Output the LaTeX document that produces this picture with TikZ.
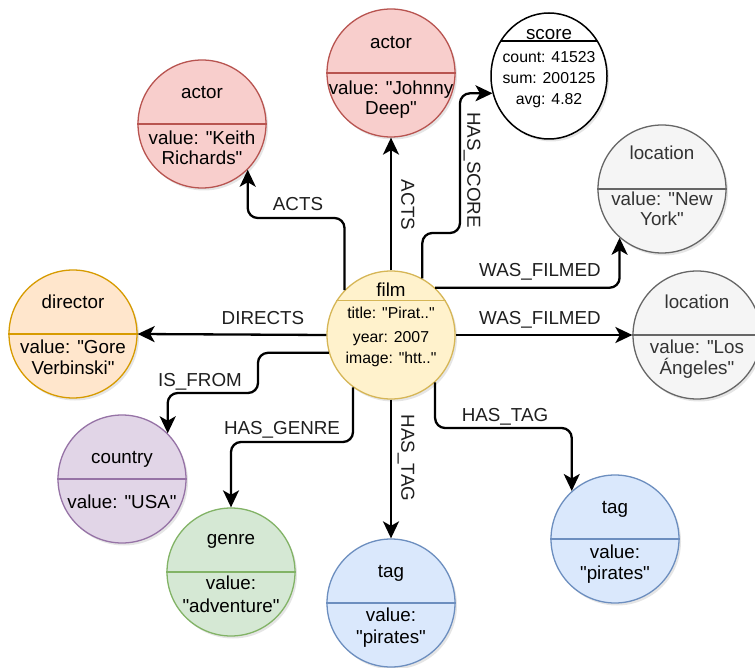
\documentclass[tikz,border=0pt]{standalone}
\usepackage{fontspec}
\setmainfont{Liberation Sans}
\usetikzlibrary{arrows.meta,shadows,shapes.geometric}

\definecolor{redF}{HTML}{F8CECC}\definecolor{redD}{HTML}{B85450}
\definecolor{yelF}{HTML}{FFF2CC}\definecolor{yelD}{HTML}{D6B656}
\definecolor{oraF}{HTML}{FFE6CC}\definecolor{oraD}{HTML}{D79B00}
\definecolor{purF}{HTML}{E1D5E7}\definecolor{purD}{HTML}{9673A6}
\definecolor{grnF}{HTML}{D5E8D4}\definecolor{grnD}{HTML}{82B366}
\definecolor{bluF}{HTML}{DAE8FC}\definecolor{bluD}{HTML}{6C8EBF}
\definecolor{gryF}{HTML}{F5F5F5}\definecolor{gryD}{HTML}{666666}
\definecolor{gryT}{HTML}{333333}

% straight double quote
\newcommand\qq{\textquotedbl}

\tikzset{
  ent/.style={circle, minimum size=128pt, inner sep=0pt, line width=1.3pt,
    drop shadow={opacity=0.2, shadow xshift=2pt, shadow yshift=-2.5pt}},
  divider/.style={line width=1.3pt},
  txt/.style={inner sep=0pt, text height=13.5pt, text depth=0pt, anchor=center,
    font=\fontsize{18.8}{22}\selectfont},
  small/.style={inner sep=0pt, text height=11.4pt, text depth=0pt, anchor=center,
    font=\fontsize{15.8}{19}\selectfont},
  rel/.style={line width=2.3pt, rounded corners=10pt,
    -{Stealth[length=17pt, width=16pt, inset=4.5pt]}},
  elabel/.style={txt, text=black!88},
}

\begin{document}
\begin{tikzpicture}[x=1pt, y=-1pt]
\fill[white] (0,0) rectangle (755,668);
\useasboundingbox (0,0) rectangle (755,668);

% ---------- entities ----------
\node[ent, fill=yelF, draw=yelD] (film) at (391,335) {};
\draw[divider, yelD] (film.148) -- (film.32);

\node[ent, fill=redF, draw=redD] (keith) at (202,124) {};
\draw[divider, redD] (keith.west) -- (keith.east);

\node[ent, fill=redF, draw=redD] (johnny) at (391,73) {};
\draw[divider, redD] (johnny.west) -- (johnny.east);

\node[ellipse, minimum width=116pt, minimum height=126pt, inner sep=0pt,
  fill=white, draw=black, line width=1.5pt,
  drop shadow={opacity=0.2, shadow xshift=2pt, shadow yshift=-2.5pt}] (score) at (549,76) {};
\draw[line width=2pt] ([shift={(-48,-35)}]score.center) coordinate (sd1) -- ([shift={(48,-35)}]score.center) coordinate (sd2);

\node[ent, fill=gryF, draw=gryD] (ny) at (662,189) {};
\draw[divider, gryD] (ny.west) -- (ny.east);

\node[ent, fill=gryF, draw=gryD] (la) at (697,335) {};
\draw[divider, gryD] (la.west) -- (la.east);

\node[ent, fill=oraF, draw=oraD] (director) at (73,334) {};
\draw[divider, oraD] (director.west) -- (director.east);

\node[ent, fill=purF, draw=purD] (country) at (122,479) {};
\draw[divider, purD] (country.west) -- (country.east);

\node[ent, fill=grnF, draw=grnD] (genre) at (231,572) {};
\draw[divider, grnD] (genre.west) -- (genre.east);

\node[ent, fill=bluF, draw=bluD] (tagA) at (391,603) {};
\draw[divider, bluD] (tagA.west) -- (tagA.east);

\node[ent, fill=bluF, draw=bluD] (tagB) at (615,539) {};
\draw[divider, bluD] (tagB.west) -- (tagB.east);

% ---------- entity texts ----------
\node[txt] (film-t) at (391,290) {film};
\node[small] (film-a) at (391,313) {title: \qq Pirat..\qq};
\node[small] (film-b) at (391,337) {year: 2007};
\node[small] (film-c) at (391,358) {image: \qq htt..\qq};

\node[txt] (keith-t) at (202,92) {actor};
\node[txt] (keith-a) at (202,138) {value: \qq Keith};
\node[txt] (keith-b) at (202,158) {Richards\qq};

\node[txt] (johnny-t) at (391,42) {actor};
\node[txt] (johnny-a) at (391,88) {value: \qq Johnny};
\node[txt] (johnny-b) at (391,108) {Deep\qq};

\node[txt] (score-t) at (549,33) {score};
\node[small] (score-a) at (549,57) {count: 41523};
\node[small] (score-b) at (549,78) {sum: 200125};
\node[small] (score-c) at (549,99) {avg: 4.82};

\node[txt, text=gryT] (ny-t) at (662,153) {location};
\node[txt, text=gryT] (ny-a) at (662,199) {value: \qq New};
\node[txt, text=gryT] (ny-b) at (662,219) {York\qq};

\node[txt, text=gryT] (la-t) at (697,302) {location};
\node[txt, text=gryT] (la-a) at (697,347) {value: \qq Los};
\node[txt, text=gryT] (la-b) at (697,368) {Ángeles\qq};

\node[txt] (director-t) at (73,302) {director};
\node[txt] (director-a) at (73,347) {value: \qq Gore};
\node[txt] (director-b) at (73,368) {Verbinski\qq};

\node[txt] (country-t) at (122,457) {country};
\node[txt] (country-a) at (122,502) {value: \qq USA\qq};

\node[txt] (genre-t) at (231,538) {genre};
\node[txt] (genre-a) at (231,583) {value:};
\node[txt] (genre-b) at (231,606) {\qq adventure\qq};

\node[txt] (tagA-t) at (391,571) {tag};
\node[txt] (tagA-a) at (391,615) {value:};
\node[txt] (tagA-b) at (391,637) {\qq pirates\qq};

\node[txt] (tagB-t) at (615,507) {tag};
\node[txt] (tagB-a) at (615,552) {value:};
\node[txt] (tagB-b) at (615,573) {\qq pirates\qq};

% ---------- relationships ----------
\coordinate (hs1) at (460,233);
\coordinate (if1) at (258,393);

\draw[rel] (film.136) |- (keith.-45 |- 0,218) -- (keith.-45);
\draw[rel] (film.north) -- (johnny.south);
\draw[rel] (film.61) |- (hs1) |- (score.197);
\draw[rel] (film.47) -| (ny.-131);
\draw[rel] (film.east) -- (la.west);
\draw[rel] (film.west) -- (director.east);
\draw[rel] (film.196) -| (if1) -| (country.45);
\draw[rel] (film.-126) |- (genre.north |- 0,442) -- (genre.north);
\draw[rel] (film.south) -- (tagA.north);
\draw[rel] (film.-47) |- (tagB.132 |- 0,428) -- (tagB.132);

% ---------- relationship labels ----------
\node[elabel] (l-acts1) at (298,204) {ACTS};
\node[elabel, rotate=-90] (l-acts2) at (408,205) {ACTS};
\node[elabel, rotate=-90] (l-score) at (474,170) {HAS\_SCORE};
\node[elabel] (l-filmed1) at (540,270) {WAS\_FILMED};
\node[elabel] (l-filmed2) at (540,318) {WAS\_FILMED};
\node[elabel] (l-directs) at (263,318) {DIRECTS};
\node[elabel] (l-from) at (200,380) {IS\_FROM};
\node[elabel] (l-genre) at (282,428) {HAS\_GENRE};
\node[elabel, rotate=-90] (l-tag1) at (408,458) {HAS\_TAG};
\node[elabel] (l-tag2) at (505,415) {HAS\_TAG};
\end{tikzpicture}
\end{document}
